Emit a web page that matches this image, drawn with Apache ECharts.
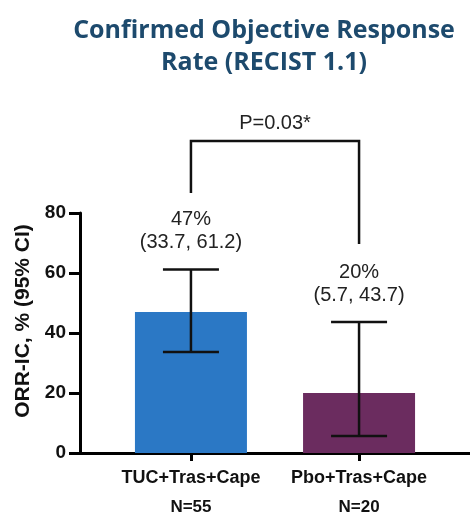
<!DOCTYPE html>
<html>
<head>
<meta charset="utf-8">
<script src="https://cdn.jsdelivr.net/npm/echarts@6/dist/echarts.min.js"></script>
<style>html,body{margin:0;padding:0;background:#fff;}#c{width:470px;height:514px;}</style>
</head>
<body>
<div id="c"></div>
<script>
const categories = ['TUC+Tras+Cape', 'Pbo+Tras+Cape'];
const sampleSizes = ['N=55', 'N=20'];
const orrValues = [47, 20];
const ciLower = [33.7, 5.7];
const ciUpper = [61.2, 43.7];
const valueLabels = ['47%', '20%'];
const ciLabels = ['(33.7, 61.2)', '(5.7, 43.7)'];
const yTicks = [0, 20, 40, 60, 80];
const pValueText = 'P=0.03*';
const bracketLevels = [86.7, 104, 69.7]; // left leg bottom, bracket top, right leg bottom (data units)
const barColors = ['#2B78C5', '#6B2C5F'];

const chart = echarts.init(document.getElementById('c'));

const barData = orrValues.map((v, i) => ({ value: [i, v], itemStyle: { color: barColors[i] } }));
const errData = orrValues.map((v, i) => [i, ciLower[i], ciUpper[i]]);

chart.setOption({
  animation: false,
  title: {
    text: 'Confirmed Objective Response\nRate (RECIST 1.1)',
    left: 259, top: 10, textAlign: 'center',
    textStyle: { fontFamily: 'Open Sans', fontWeight: 'bold', fontSize: 25, color: '#1D4A6D', lineHeight: 32 }
  },
  grid: { left: 80, right: 0, top: 213, bottom: 61, outerBoundsMode: 'none', containLabel: false },
  xAxis: {
    type: 'value', min: -0.66, max: 1.66,
    splitLine: { show: false },
    axisLine: { show: true, lineStyle: { color: '#000', width: 3 } },
    axisTick: { show: true, customValues: [0, 1], length: 8, lineStyle: { color: '#000', width: 3 } },
    axisLabel: {
      customValues: [0, 1], margin: 11,
      formatter: v => '{a|' + categories[Math.round(v)] + '}\n{b|' + sampleSizes[Math.round(v)] + '}',
      rich: {
        a: { fontFamily: 'Liberation Sans', fontWeight: 'bold', fontSize: 18, color: '#111', lineHeight: 29 },
        b: { fontFamily: 'Liberation Sans', fontWeight: 'bold', fontSize: 17, color: '#111', lineHeight: 29 }
      }
    }
  },
  yAxis: {
    type: 'value', min: 0, max: 80, interval: 20,
    name: 'ORR-IC, % (95% CI)', nameLocation: 'middle', nameGap: 43, nameRotate: 90,
    nameTextStyle: { fontFamily: 'Liberation Sans', fontWeight: 'bold', fontSize: 21, color: '#111', padding: [0, 0, 0, 24] },
    splitLine: { show: false },
    axisLine: { show: true, onZero: false, lineStyle: { color: '#000', width: 3 } },
    axisTick: { show: true, length: 11, lineStyle: { color: '#000', width: 3 } },
    axisLabel: { fontFamily: 'Liberation Sans', fontWeight: 'bold', fontSize: 19, color: '#111', margin: 14 }
  },
  series: [
    {
      type: 'bar', data: barData, barWidth: 112, z: 2
    },
    {
      type: 'custom', data: errData, z: 5, clip: false,
      renderItem: (params, api) => {
        const i = api.value(0);
        const lo = api.coord([i, api.value(1)]);
        const hi = api.coord([i, api.value(2)]);
        const hw = 28;
        const st = { stroke: '#111', lineWidth: 2.5 };
        return {
          type: 'group',
          children: [
            { type: 'line', shape: { x1: lo[0], y1: lo[1], x2: hi[0], y2: hi[1] }, style: st },
            { type: 'line', shape: { x1: lo[0] - hw, y1: lo[1], x2: lo[0] + hw, y2: lo[1] }, style: st },
            { type: 'line', shape: { x1: hi[0] - hw, y1: hi[1], x2: hi[0] + hw, y2: hi[1] }, style: st },
            { type: 'text', style: {
                x: hi[0], y: hi[1] - 15,
                text: valueLabels[i] + '\n' + ciLabels[i],
                align: 'center', verticalAlign: 'bottom',
                fontFamily: 'Liberation Sans', fontSize: 20, lineHeight: 23, fill: '#222'
            } }
          ]
        };
      }
    },
    {
      type: 'custom', data: [[0, 1]], z: 5, clip: false,
      renderItem: (params, api) => {
        const a = api.coord([api.value(0), bracketLevels[0]]);
        const at = api.coord([api.value(0), bracketLevels[1]]);
        const bt = api.coord([api.value(1), bracketLevels[1]]);
        const b = api.coord([api.value(1), bracketLevels[2]]);
        return {
          type: 'group',
          children: [
            { type: 'polyline', shape: { points: [a, at, bt, b] }, style: { stroke: '#111', lineWidth: 2.5, fill: null } },
            { type: 'text', style: {
                x: (at[0] + bt[0]) / 2, y: at[1] - 8, text: pValueText,
                align: 'center', verticalAlign: 'bottom',
                fontFamily: 'Liberation Sans', fontSize: 20, fill: '#222'
            } }
          ]
        };
      }
    }
  ]
});
</script>
</body>
</html>
